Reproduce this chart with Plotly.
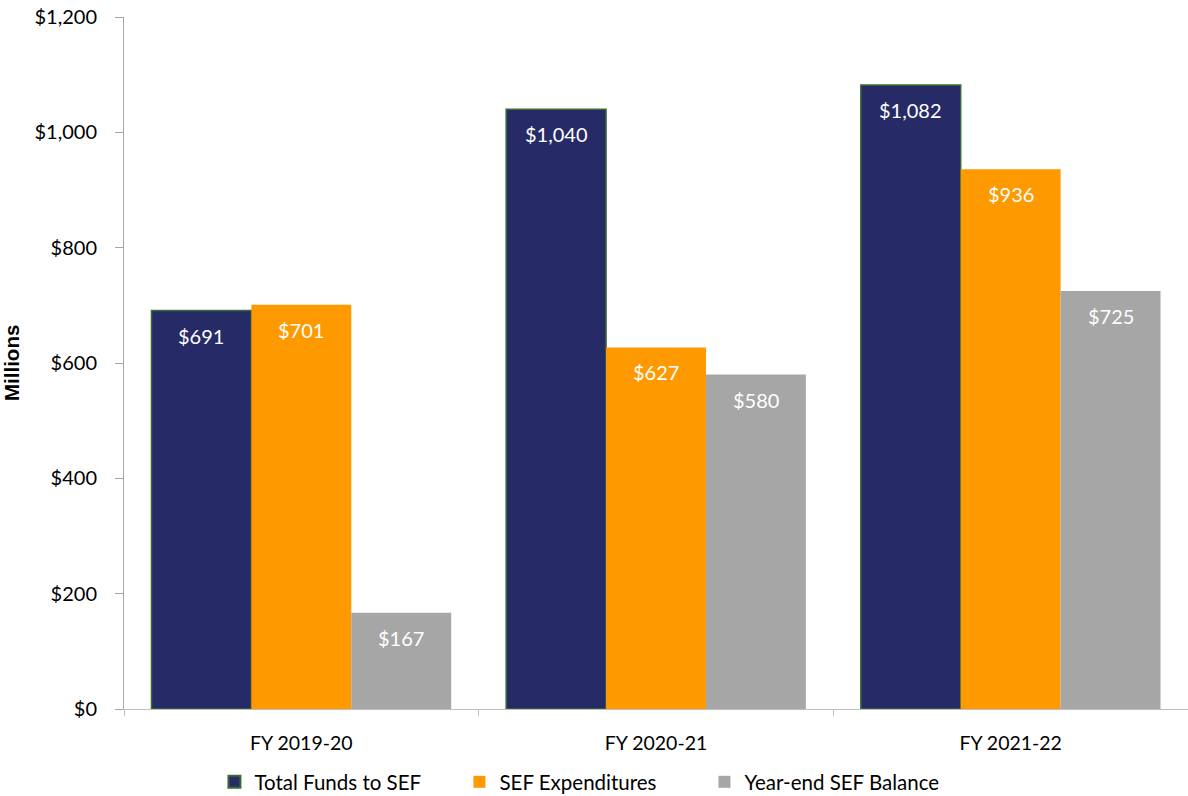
import plotly.graph_objects as go

# Special Education Fund (SEF) summary, in millions of dollars
years = ["FY 2019-20", "FY 2020-21", "FY 2021-22"]
total_funds = [691, 1040, 1082]
expenditures = [701, 627, 936]
balance = [167, 580, 725]

series = [
    ("Total Funds to SEF", total_funds, "#262B67", "#3B6B35", 1.5),
    ("SEF Expenditures", expenditures, "#FF9900", "#FF9900", 0),
    ("Year-end SEF Balance", balance, "#A6A6A6", "#A6A6A6", 0),
]

FONT = "Lato"
BARGAP = 0.155

fig = go.Figure()
for name, vals, color, line_color, lw in series:
    fig.add_trace(go.Bar(
        name=name,
        x=years,
        y=vals,
        marker=dict(color=color, line=dict(color=line_color, width=lw)),
        textposition="none",
        showlegend=False,
        hoverinfo="x+y+name",
    ))
    # square legend key for this series
    fig.add_trace(go.Scatter(
        name=name,
        x=[None],
        y=[None],
        mode="markers",
        marker=dict(symbol="square", size=14, color=color,
                    line=dict(color=line_color, width=2 if lw else 0)),
        showlegend=True,
        hoverinfo="skip",
    ))

# value labels sit just inside the top of each bar
offsets = [-1, 0, 1]
annotations = []
for k, (name, vals, color, _, _) in enumerate(series):
    for i, v in enumerate(vals):
        annotations.append(dict(
            x=i + offsets[k] * (1 - BARGAP) / 3,
            y=v,
            xref="x",
            yref="y",
            text=f"${v:,}",
            showarrow=False,
            yanchor="middle",
            yshift=-25,
            font=dict(family=FONT, size=20, color="white"),
        ))

# y-axis title, placed at the far left edge
annotations.append(dict(
    x=-0.1062,
    y=0.5,
    xref="paper",
    yref="paper",
    text="<b>Millions</b>",
    textangle=-90,
    showarrow=False,
    xanchor="center",
    yanchor="middle",
    font=dict(family="Liberation Sans", size=20.5, color="black"),
))

fig.update_layout(
    width=1188,
    height=796,
    margin=dict(l=124, r=0, t=17, b=87),
    paper_bgcolor="white",
    plot_bgcolor="white",
    barmode="group",
    bargap=BARGAP,
    bargroupgap=0,
    font=dict(family=FONT, size=18, color="black"),
    showlegend=True,
    legend=dict(
        orientation="h",
        x=0.085,
        xanchor="left",
        y=0.0176,
        yref="container",
        yanchor="middle",
        font=dict(family=FONT, size=20.5, color="black"),
        entrywidth=200,
        entrywidthmode="pixels",
        itemsizing="constant",
    ),
    annotations=annotations,
)

fig.update_xaxes(
    type="category",
    showline=True,
    linecolor="#BFBFBF",
    linewidth=1,
    ticks="outside",
    tickson="boundaries",
    ticklen=6,
    tickcolor="#BFBFBF",
    tickfont=dict(family=FONT, size=19.5, color="black"),
    ticklabelstandoff=17,
    showgrid=False,
)

fig.update_yaxes(
    range=[0, 1200],
    dtick=200,
    tickprefix="$",
    tickformat=",",
    showline=True,
    linecolor="#A6A6A6",
    linewidth=1,
    ticks="outside",
    ticklen=8,
    tickcolor="#A6A6A6",
    tickfont=dict(family=FONT, size=20, color="black"),
    ticklabelstandoff=14,
    showgrid=False,
    zeroline=False,
)

fig.write_html("out.html")
